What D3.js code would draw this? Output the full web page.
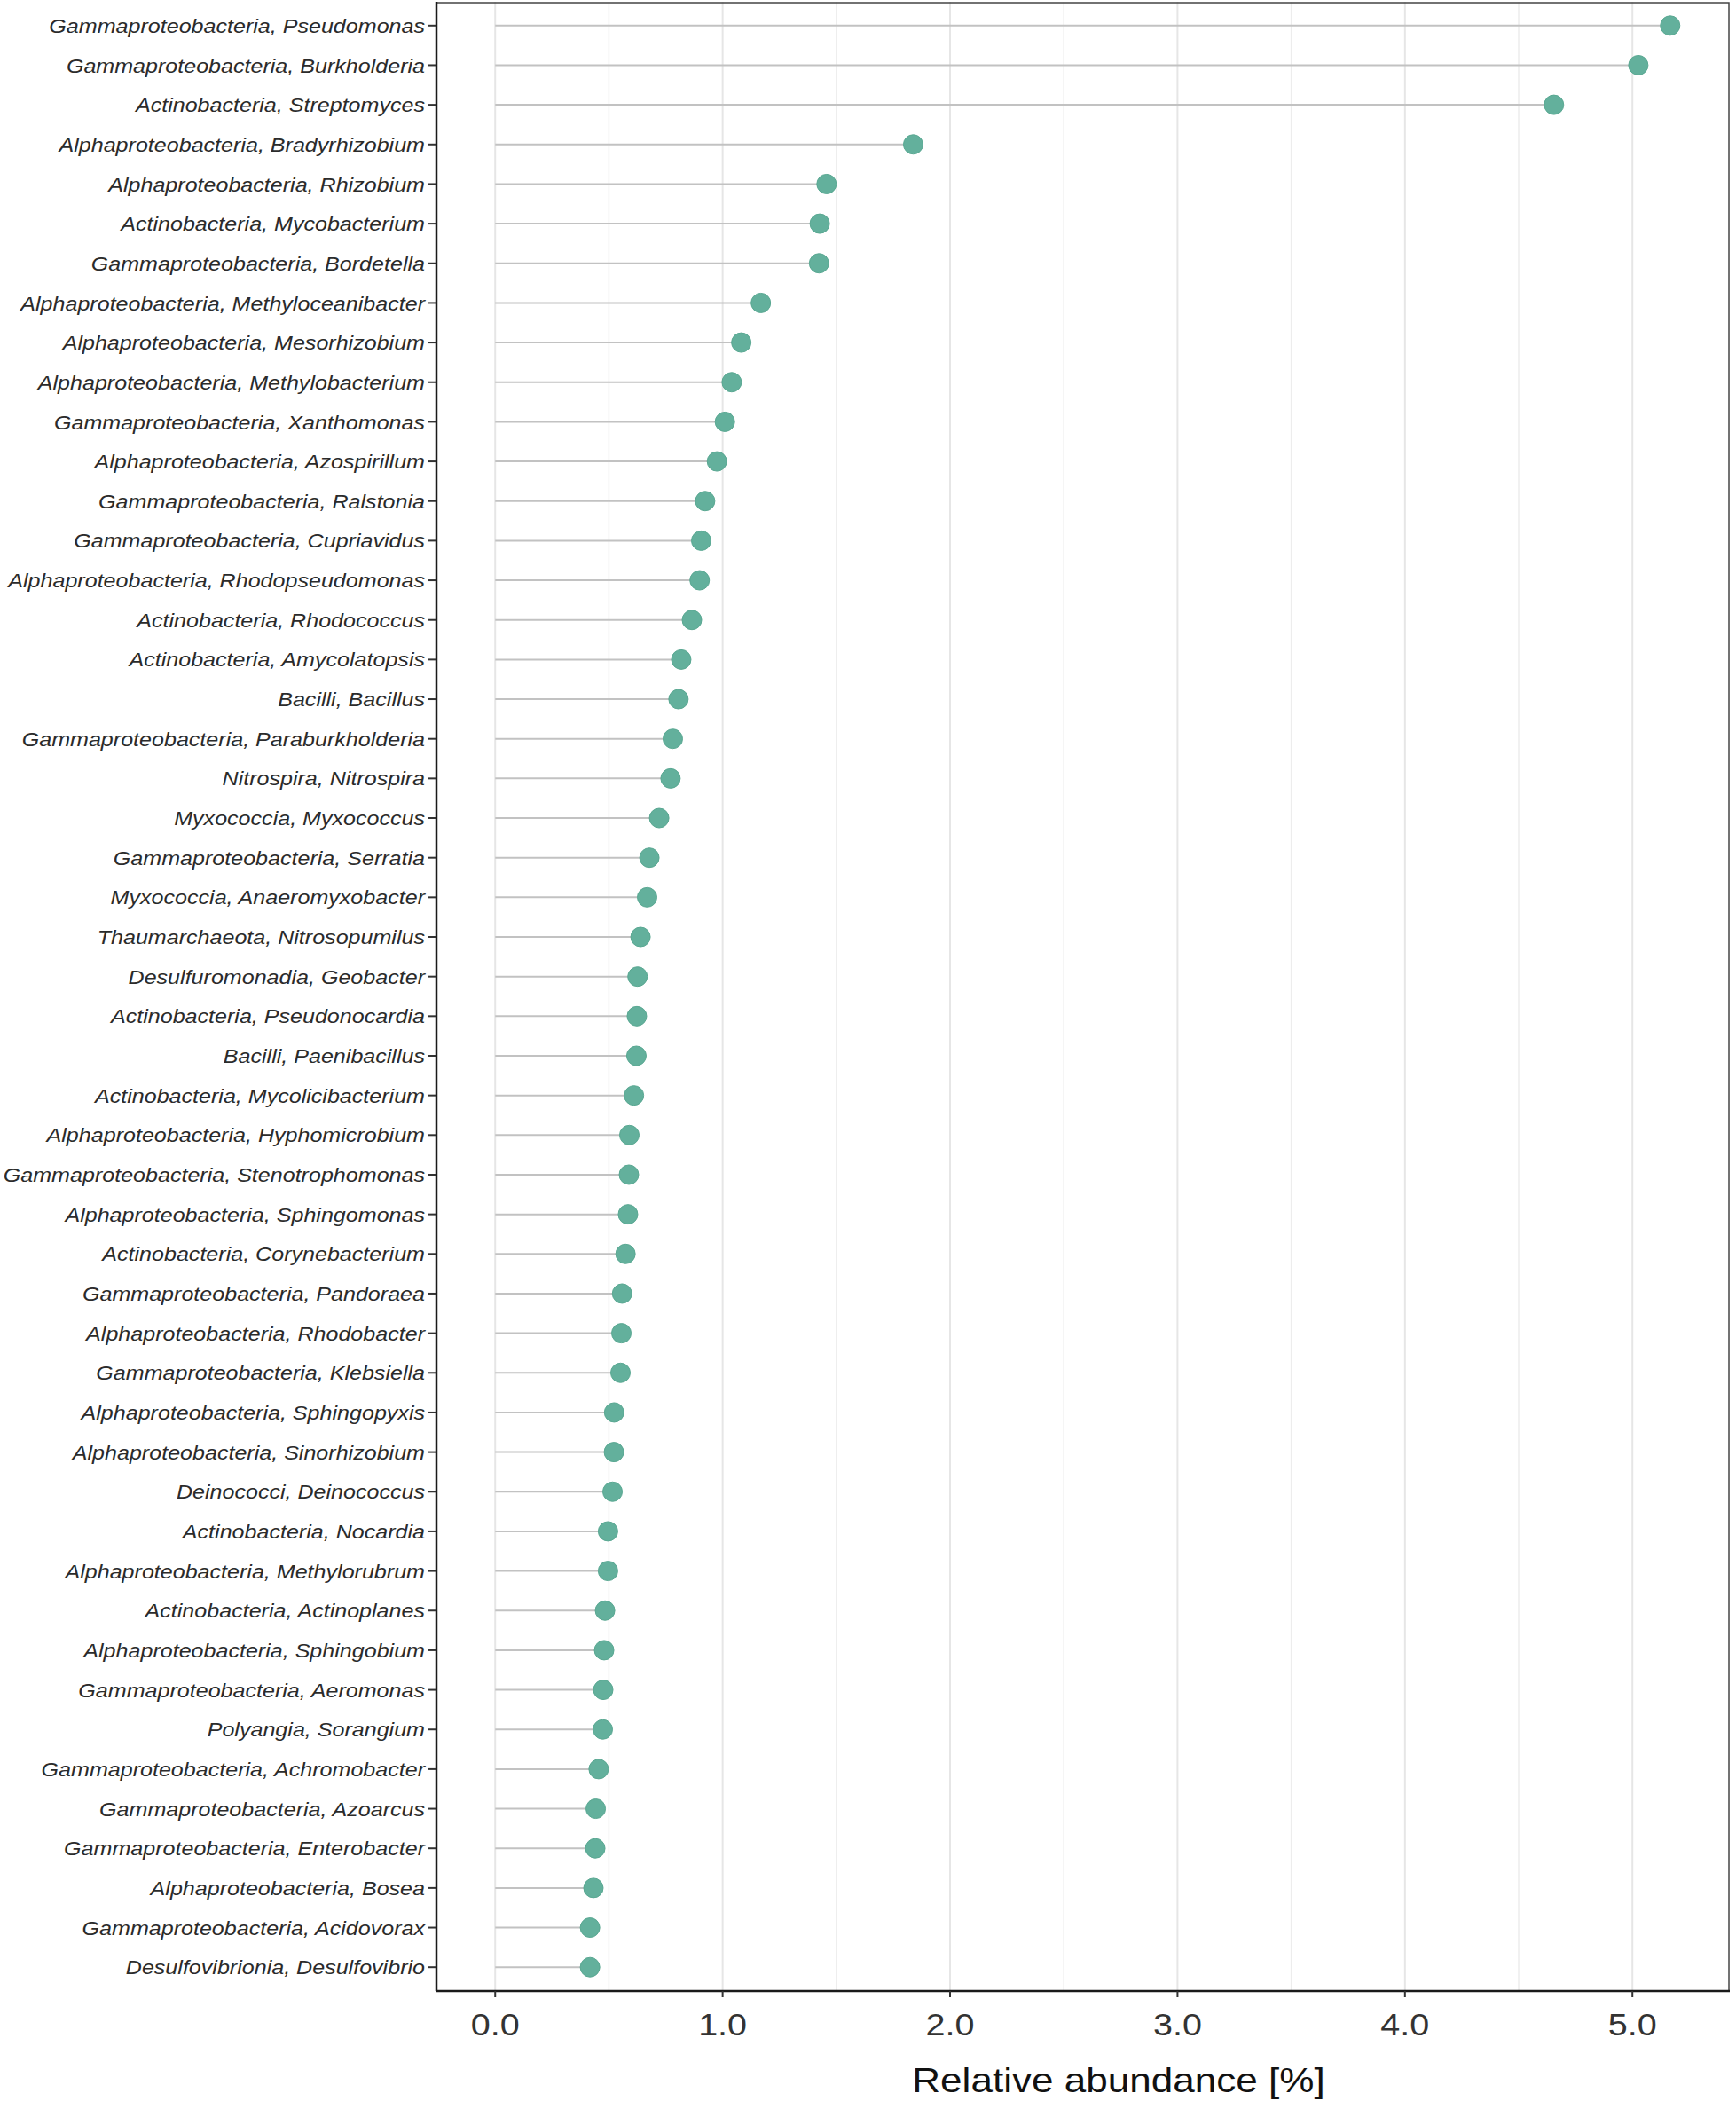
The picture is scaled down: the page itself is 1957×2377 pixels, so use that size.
<!DOCTYPE html>
<html>
<head>
   <meta charset="utf-8">
   <title>Relative abundance lollipop</title>
   <script src="https://d3js.org/d3.v7.min.js"></script>
   <style>
   body { margin: 0; background: white; }
   svg { display: block; background: white; }
   text { font-family: "Liberation Sans", Arial, Helvetica, sans-serif; }
   </style>
</head>
<body>
  <div id="chart"></div>
  <script>

   var genera = [
      "Gammaproteobacteria, Pseudomonas",
      "Gammaproteobacteria, Burkholderia",
      "Actinobacteria, Streptomyces",
      "Alphaproteobacteria, Bradyrhizobium",
      "Alphaproteobacteria, Rhizobium",
      "Actinobacteria, Mycobacterium",
      "Gammaproteobacteria, Bordetella",
      "Alphaproteobacteria, Methyloceanibacter",
      "Alphaproteobacteria, Mesorhizobium",
      "Alphaproteobacteria, Methylobacterium",
      "Gammaproteobacteria, Xanthomonas",
      "Alphaproteobacteria, Azospirillum",
      "Gammaproteobacteria, Ralstonia",
      "Gammaproteobacteria, Cupriavidus",
      "Alphaproteobacteria, Rhodopseudomonas",
      "Actinobacteria, Rhodococcus",
      "Actinobacteria, Amycolatopsis",
      "Bacilli, Bacillus",
      "Gammaproteobacteria, Paraburkholderia",
      "Nitrospira, Nitrospira",
      "Myxococcia, Myxococcus",
      "Gammaproteobacteria, Serratia",
      "Myxococcia, Anaeromyxobacter",
      "Thaumarchaeota, Nitrosopumilus",
      "Desulfuromonadia, Geobacter",
      "Actinobacteria, Pseudonocardia",
      "Bacilli, Paenibacillus",
      "Actinobacteria, Mycolicibacterium",
      "Alphaproteobacteria, Hyphomicrobium",
      "Gammaproteobacteria, Stenotrophomonas",
      "Alphaproteobacteria, Sphingomonas",
      "Actinobacteria, Corynebacterium",
      "Gammaproteobacteria, Pandoraea",
      "Alphaproteobacteria, Rhodobacter",
      "Gammaproteobacteria, Klebsiella",
      "Alphaproteobacteria, Sphingopyxis",
      "Alphaproteobacteria, Sinorhizobium",
      "Deinococci, Deinococcus",
      "Actinobacteria, Nocardia",
      "Alphaproteobacteria, Methylorubrum",
      "Actinobacteria, Actinoplanes",
      "Alphaproteobacteria, Sphingobium",
      "Gammaproteobacteria, Aeromonas",
      "Polyangia, Sorangium",
      "Gammaproteobacteria, Achromobacter",
      "Gammaproteobacteria, Azoarcus",
      "Gammaproteobacteria, Enterobacter",
      "Alphaproteobacteria, Bosea",
      "Gammaproteobacteria, Acidovorax",
      "Desulfovibrionia, Desulfovibrio"
   ];

   // relative abundance in %
   var abundance = [
      5.166, 5.026, 4.655, 1.838, 1.457, 1.427, 1.424, 1.168, 1.082, 1.040,
      1.010, 0.975, 0.923, 0.906, 0.899, 0.865, 0.818, 0.806, 0.781, 0.771,
      0.721, 0.678, 0.668, 0.639, 0.626, 0.623, 0.621, 0.610, 0.590, 0.588,
      0.584, 0.573, 0.558, 0.555, 0.551, 0.523, 0.522, 0.516, 0.496, 0.496,
      0.483, 0.479, 0.475, 0.473, 0.455, 0.442, 0.440, 0.432, 0.417, 0.417
   ];

   var majorTicks = [0, 1, 2, 3, 4, 5];
   var minorTicks = [0.5, 1.5, 2.5, 3.5, 4.5];
   var xTitle = "Relative abundance [%]";

   var width = 1957, height = 2377;
   // panel edges (note: "top" is taken by window.top, so prefix them)
   var pLeft = 492, pRight = 1949, pTop = 2, pBottom = 2244;
   var stretch = 1.13;      // the original figure is a bit wider than tall
   var labelStretch = 1.115;

   var svg = d3.select("#chart").append("svg")
      .attr("width", width)
      .attr("height", height);

   var xmax = d3.max(abundance);
   var x = d3.scaleLinear()
      .domain([-0.05 * xmax, xmax * 1.05])
      .range([pLeft, pRight]);

   var y = d3.scalePoint()
      .domain(genera)
      .range([pTop, pBottom])
      .padding(0.6);

   var rows = genera.map(function(g, i){ return {name: g, value: abundance[i]}; });

   // vertical grid
   svg.append("g").selectAll("line")
      .data(minorTicks)
      .enter().append("line")
      .attr("x1", function(d){ return x(d); })
      .attr("x2", function(d){ return x(d); })
      .attr("y1", pTop).attr("y2", pBottom)
      .attr("stroke", "#ededed")
      .attr("stroke-width", 1.5);

   svg.append("g").selectAll("line")
      .data(majorTicks)
      .enter().append("line")
      .attr("x1", function(d){ return x(d); })
      .attr("x2", function(d){ return x(d); })
      .attr("y1", pTop).attr("y2", pBottom)
      .attr("stroke", "#e6e6e6")
      .attr("stroke-width", 2);

   // stems
   svg.append("g").selectAll("line")
      .data(rows)
      .enter().append("line")
      .attr("x1", x(0))
      .attr("x2", function(d){ return x(d.value); })
      .attr("y1", function(d){ return y(d.name); })
      .attr("y2", function(d){ return y(d.name); })
      .attr("stroke", "#c2c2c2")
      .attr("stroke-width", 2);

   // dots
   svg.append("g").selectAll("circle")
      .data(rows)
      .enter().append("circle")
      .attr("cx", function(d){ return x(d.value); })
      .attr("cy", function(d){ return y(d.name); })
      .attr("r", 11)
      .attr("fill", "#63b09c")
      .attr("stroke", "#5aa892")
      .attr("stroke-width", 1);

   // panel border
   svg.append("rect")
      .attr("x", pLeft).attr("y", pTop + 1)
      .attr("width", pRight - pLeft).attr("height", pBottom - pTop - 1)
      .attr("fill", "none")
      .attr("stroke", "#444")
      .attr("stroke-width", 1.5);

   // axis lines
   svg.append("line")
      .attr("x1", pLeft).attr("x2", pLeft)
      .attr("y1", pTop).attr("y2", pBottom)
      .attr("stroke", "#1a1a1a").attr("stroke-width", 2.5);
   svg.append("line")
      .attr("x1", pLeft - 1).attr("x2", pRight + 1)
      .attr("y1", pBottom).attr("y2", pBottom)
      .attr("stroke", "#1a1a1a").attr("stroke-width", 2.5);

   // y ticks and labels
   var yAxis = svg.append("g");
   yAxis.selectAll("line")
      .data(genera)
      .enter().append("line")
      .attr("x1", pLeft - 9).attr("x2", pLeft)
      .attr("y1", function(d){ return y(d); })
      .attr("y2", function(d){ return y(d); })
      .attr("stroke", "#333").attr("stroke-width", 2);

   var labelSize = 22.5;
   yAxis.selectAll("text")
      .data(genera)
      .enter().append("text")
      .attr("transform", function(d){
         return "translate(" + (pLeft - 13) + "," + (y(d) + labelSize * 0.36) + ") scale(" + labelStretch + ",1)";
      })
      .attr("text-anchor", "end")
      .attr("font-style", "italic")
      .attr("font-size", labelSize)
      .attr("fill", "#2b2b2b")
      .text(function(d){ return d; });

   // x ticks and labels
   var xAxis = svg.append("g");
   xAxis.selectAll("line")
      .data(majorTicks)
      .enter().append("line")
      .attr("x1", function(d){ return x(d); })
      .attr("x2", function(d){ return x(d); })
      .attr("y1", pBottom).attr("y2", pBottom + 7)
      .attr("stroke", "#333").attr("stroke-width", 2);

   xAxis.selectAll("text")
      .data(majorTicks)
      .enter().append("text")
      .attr("transform", function(d){
         return "translate(" + x(d) + "," + 2294 + ") scale(" + stretch + ",1)";
      })
      .attr("text-anchor", "middle")
      .attr("font-size", 35)
      .attr("fill", "#333")
      .text(function(d){ return d3.format(".1f")(d); });

   svg.append("text")
      .attr("transform", "translate(1261,2358) scale(" + stretch + ",1)")
      .attr("text-anchor", "middle")
      .attr("font-size", 39)
      .attr("fill", "#111")
      .text(xTitle);

  </script>
</body>
</html>
